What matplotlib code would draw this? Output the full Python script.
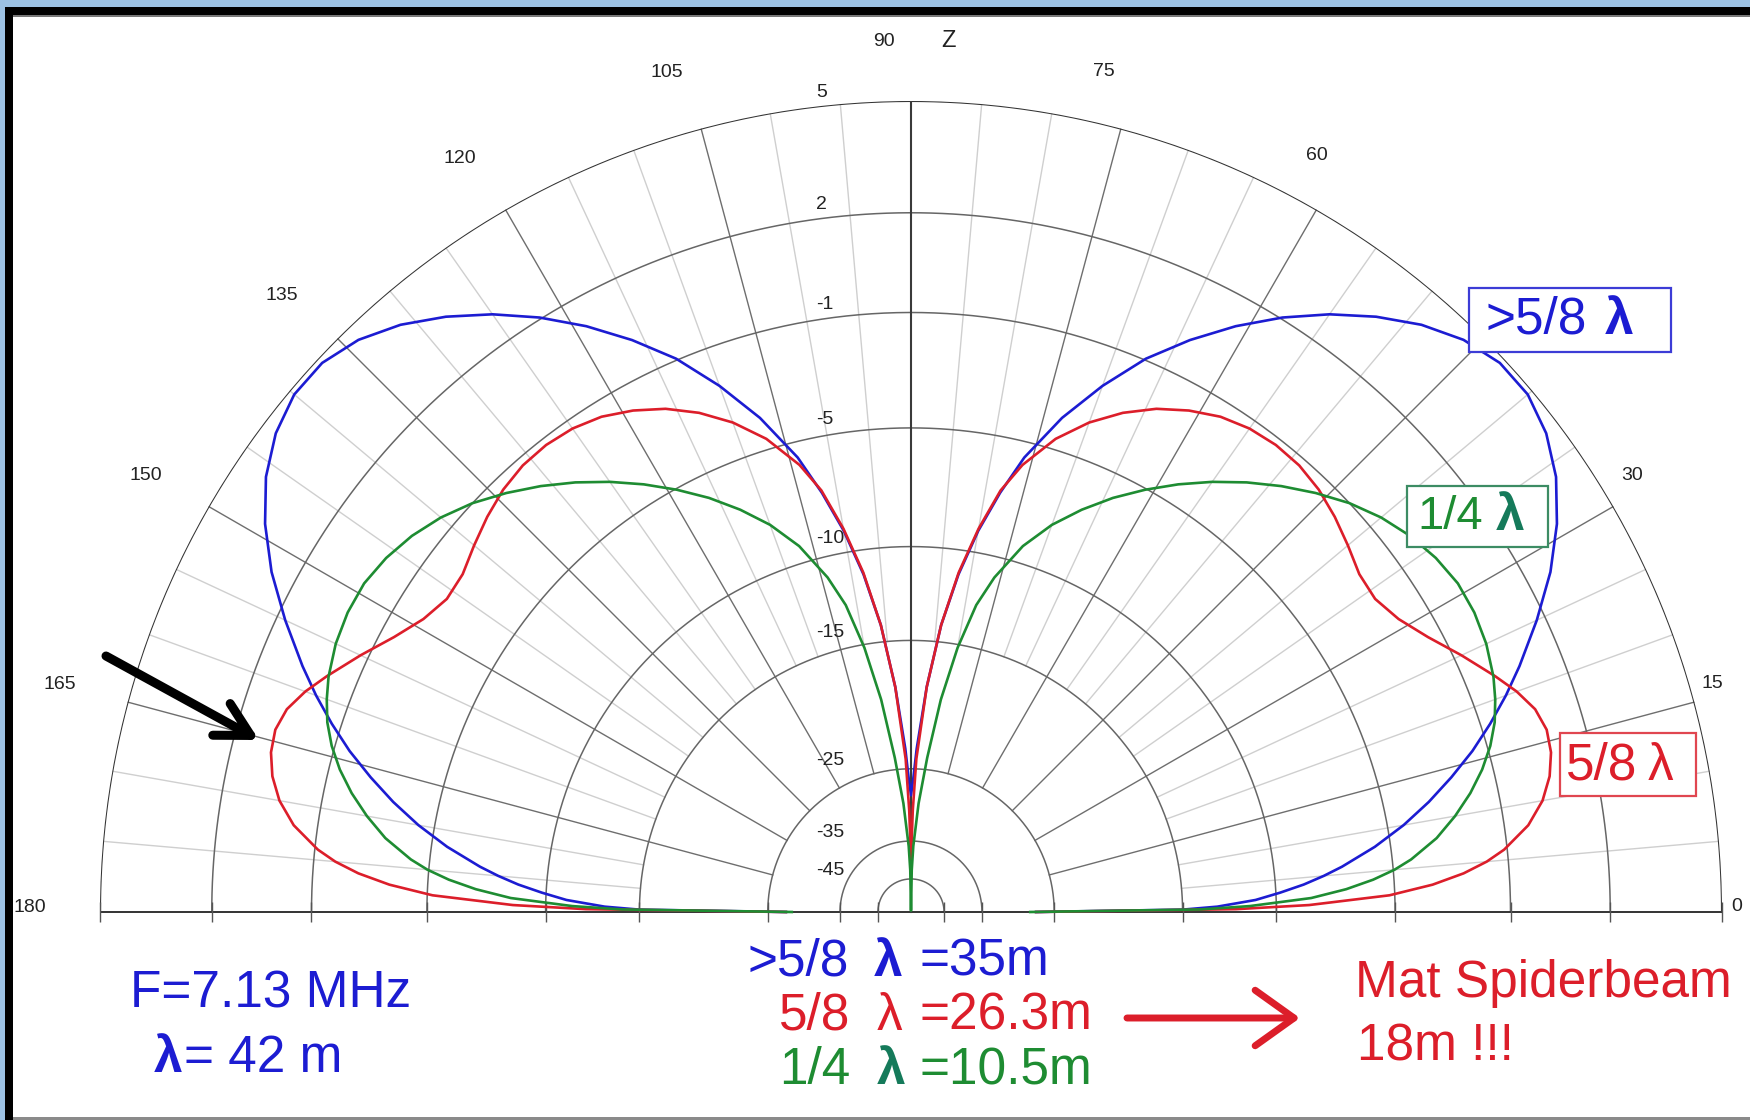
import numpy as np
import matplotlib.pyplot as plt
from matplotlib.patches import Rectangle

plt.rcParams['font.family'] = ['Liberation Sans', 'DejaVu Sans']

# Anéis da escala radial (dB)
ring_db = [5, 2, -1, -5, -10, -15, -25, -35, -45]

# Ângulos de elevação (graus), metade direita - o diagrama é simétrico em 90
elev = [0, 0.5, 1, 2, 3, 4, 5, 6, 8, 10, 12, 14, 16, 18, 20, 22, 25, 28, 31, 34, 37,
        40, 43, 46, 49, 52, 55, 58, 61, 64, 67, 70, 73, 76, 78, 80, 82, 84, 86, 88, 89, 90]

# Ganho (dBi) de cada antena vertical
gain_more58 = [-27, -15, -13, -11, -9.8, -8.7, -7.8, -7.0, -5.6, -4.4, -3.35, -2.4, -1.5, -0.7,
               0.05, 0.75, 1.75, 2.7, 3.5, 4.15, 4.6, 4.85, 4.85, 4.6, 4.15, 3.55, 2.85, 2.05,
               1.15, 0.15, -0.95, -2.3, -3.8, -5.6, -7.2, -9.0, -11.2, -14, -18, -23, -26, -28]
gain_58 = [-27, -12, -8.5, -5.2, -3.6, -2.5, -1.7, -1.1, -0.25, 0.3, 0.65, 0.85, 0.9, 0.75,
           0.4, -0.05, -0.75, -1.45, -2.0, -2.3, -2.25, -1.95, -1.65, -1.4, -1.25, -1.22, -1.3,
           -1.5, -1.85, -2.3, -2.9, -3.65, -4.6, -5.9, -7.1, -8.9, -11.1, -14, -18, -24, -30, -39]
gain_14 = [-27.7, -14, -11.3, -8.4, -6.9, -5.8, -4.95, -4.3, -3.3, -2.55, -1.9, -1.35, -0.9,
           -0.55, -0.3, -0.1, 0.1, 0.2, 0.2, 0.05, -0.2, -0.55, -1.0, -1.55, -2.15, -2.8, -3.5,
           -4.25, -5.05, -5.9, -6.85, -7.9, -9.2, -11.0, -12.6, -15.2, -18.8, -23.8, -29, -36, -42, -80]

angle_labels = [0, 15, 30, 60, 75, 105, 120, 135, 150, 165, 180]

BLUE = '#1c1cd2'
RED = '#dc1e2a'
GREEN = '#1e8c32'
TEAL = '#157a5a'


# escala logarítmica tipo ARRL (ajustada às posições dos anéis)
def db_to_r(db):
    d = 5 - np.asarray(db, dtype=float)
    return np.exp(-(0.0485 * d + 0.00031 * d ** 2))


W, H = 1750, 1120
cx, cy, R = 911, 912, 811  # centro e raio do diagrama em pixels

fig = plt.figure(figsize=(W / 100, H / 100), dpi=100)
fig.patch.set_facecolor('white')

ax = fig.add_axes([(cx - R) / W, (H - cy - R) / H, 2 * R / W, 2 * R / H],
                  projection='polar', zorder=1)
ax.set_rlim(0, 1)
ax.axis('off')

ring_r = [float(db_to_r(db)) for db in ring_db]

# grade: raios menores a cada 5 graus, maiores a cada 15
for a in range(5, 180, 5):
    t = np.radians(a)
    if a == 90:
        continue
    if a % 15 == 0:
        ax.plot([t, t], [db_to_r(-25), 1], color='#6e6e6e', lw=1.0)
    else:
        ax.plot([t, t], [db_to_r(-15), 1], color='#cfcfcf', lw=1.0)

th = np.linspace(0, np.pi, 600)
for db, r in zip(ring_db, ring_r):
    if db == 5:
        ax.plot(th, np.full_like(th, r), color='#333333', lw=1.5)
    else:
        ax.plot(th, np.full_like(th, r), color='#666666', lw=1.1)

ax.plot([0, 0], [0, 1], color='#333333', lw=1.4)
ax.plot([np.pi, np.pi], [0, 1], color='#333333', lw=1.4)
ax.plot([np.pi / 2, np.pi / 2], [0, 1], color='#3a3a3a', lw=1.5)
ax.plot([0] * len(ring_r) + [np.pi] * len(ring_r), ring_r + ring_r, ls='none',
        marker='|', ms=14, mew=1.0, color='#555555', clip_on=False)

# rótulos dos anéis (dB)
for db, r in zip(ring_db, ring_r):
    x, y = -0.117, r + 0.01
    ax.text(np.arctan2(y, x), np.hypot(x, y), str(db), ha='left', va='center',
            fontsize=14, color='#222222')

# rótulos de ângulo
for a in angle_labels:
    if a > 90:
        t, rl = a + 0.02 * (165 - a), min(1.078 + 0.0003 * (a - 105), 1.086)
    elif a == 0:
        t, rl = 0.4, 1.018
    else:
        t, rl = a + 0.6 + 0.02 * a, 1.015 + 0.05 * np.sin(np.radians(a))
    ax.text(np.radians(t), rl, str(a), ha='center', va='center', fontsize=14, color='#222222')

# diagramas
el = np.array(elev)
theta = np.radians(np.r_[el, 180 - el[::-1]])
for g, col in [(gain_more58, BLUE), (gain_58, RED), (gain_14, GREEN)]:
    g = np.array(g)
    ax.plot(theta, db_to_r(np.r_[g, g[::-1]]), color=col, lw=1.9)

# camada de anotações em pixels
ov = fig.add_axes([0, 0, 1, 1], zorder=3)
ov.set_xlim(0, W)
ov.set_ylim(H, 0)
ov.axis('off')

# moldura da janela
ov.add_patch(Rectangle((0, 0), W, 7, fc='#9cc2e4', ec='none'))
ov.add_patch(Rectangle((0, 0), 5, H, fc='#9cc2e4', ec='none'))
ov.add_patch(Rectangle((5, 7), W, 8, fc='black', ec='none'))
ov.add_patch(Rectangle((5, 7), 8, H, fc='black', ec='none'))
ov.add_patch(Rectangle((13, 15), W, 1.5, fc='#777777', ec='none'))
ov.add_patch(Rectangle((13, H - 3), W, 3, fc='#8a8a8a', ec='none'))

ov.text(884, 41, '90', ha='center', va='center', fontsize=14, color='#222222')
ov.text(949, 41, 'Z', ha='center', va='center', fontsize=17, color='#222222')

# caixas de legenda
for (x0, y0, x1, y1, ec) in [(1469, 288, 1671, 352, '#3c3cd6'),
                             (1407, 486, 1548, 547, '#3c8c64'),
                             (1560, 733, 1696, 796, '#e04650')]:
    ov.add_patch(Rectangle((x0, y0), x1 - x0, y1 - y0, fc='white', ec=ec, lw=1.6, zorder=2))

fs = 37
ov.text(1486, 320, '>5/8', color=BLUE, fontsize=fs, va='center', zorder=3)
ov.text(1605, 320, 'λ', color=BLUE, fontsize=fs, fontweight='bold', va='center', zorder=3)
ov.text(1417, 517, '1/4', color=GREEN, fontsize=34, va='center', zorder=3)
ov.text(1496, 517, 'λ', color=TEAL, fontsize=fs, fontweight='bold', va='center', zorder=3)
ov.text(1566, 766, '5/8', color=RED, fontsize=fs, va='center', zorder=3)
ov.text(1648, 766, 'λ', color=RED, fontsize=fs, va='center', zorder=3)

# textos inferiores
ov.text(130, 994, 'F=7.13 MHz', color=BLUE, fontsize=fs, va='center')
ov.text(154, 1058, 'λ', color=BLUE, fontsize=fs, fontweight='bold', va='center')
ov.text(184, 1058, '= 42 m', color=BLUE, fontsize=fs, va='center')

ov.text(748, 962, '>5/8', color=BLUE, fontsize=fs, va='center')
ov.text(874, 962, 'λ', color=BLUE, fontsize=fs, fontweight='bold', va='center')
ov.text(920, 962, '=35m', color=BLUE, fontsize=fs, va='center')
ov.text(779, 1016, '5/8', color=RED, fontsize=fs, va='center')
ov.text(877, 1016, 'λ', color=RED, fontsize=fs, va='center')
ov.text(920, 1016, '=26.3m', color=RED, fontsize=fs, va='center')
ov.text(779, 1071, '1/4', color=GREEN, fontsize=fs, va='center')
ov.text(877, 1071, 'λ', color=TEAL, fontsize=fs, fontweight='bold', va='center')
ov.text(920, 1071, '=10.5m', color=GREEN, fontsize=fs, va='center')

ov.text(1355, 984, 'Mat Spiderbeam', color=RED, fontsize=fs, va='center')
ov.text(1357, 1047, '18m !!!', color=RED, fontsize=fs, va='center')

# setas
ov.annotate('', xy=(1300, 1018), xytext=(1127, 1018),
            arrowprops=dict(arrowstyle='->,head_length=1.4,head_width=1.0', color=RED,
                            lw=5, mutation_scale=20, shrinkA=0, shrinkB=0))
ov.annotate('', xy=(259, 740), xytext=(106, 656),
            arrowprops=dict(arrowstyle='->,head_length=1.2,head_width=0.65', color='black',
                            lw=6.5, mutation_scale=20, shrinkA=0, shrinkB=0))

fig.savefig('out.png', dpi=100, facecolor='white')
